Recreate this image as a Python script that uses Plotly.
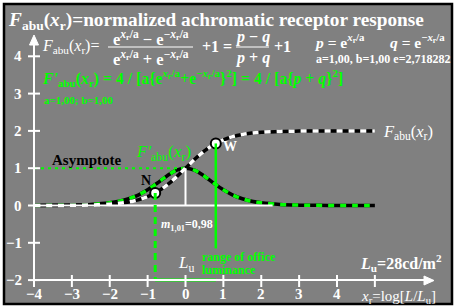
import plotly.graph_objects as go

# ---- data ----
x_vals = [-4.0, -3.5, -3.0, -2.5, -2.0, -1.75, -1.5, -1.25, -1.0, -0.75, -0.5, -0.25,
          0.0, 0.25, 0.5, 0.75, 1.0, 1.25, 1.5, 1.75, 2.0, 2.5, 3.0, 3.5, 4.0, 4.5, 5.0]
f_abu = [0.001, 0.002, 0.005, 0.013, 0.036, 0.059, 0.095, 0.152, 0.238, 0.365, 0.538, 0.755,
         1.0, 1.245, 1.462, 1.635, 1.762, 1.848, 1.905, 1.941, 1.964, 1.987, 1.995, 1.998, 1.999, 2.0, 2.0]
f_deriv = [0.001, 0.004, 0.010, 0.027, 0.071, 0.114, 0.181, 0.280, 0.420, 0.597, 0.786, 0.940,
           1.0, 0.940, 0.786, 0.597, 0.420, 0.280, 0.181, 0.114, 0.071, 0.027, 0.010, 0.004, 0.001, 0.0005, 0.0002]
points_x = [-0.8, 0.8]
points_y = [0.336, 1.664]
x_ticks = [-4, -3, -2, -1, 0, 1, 2, 3, 4, 5]
x_tick_labels = ["−4", "−3", "−2", "−1", "0", "1", "2", "3", "4", ""]
y_ticks = [-2, -1, 0, 1, 2, 3, 4]
y_tick_labels = ["−2", "−1", "0", "1", "2", "3", "4"]

# ---- pixel helpers (layout only) ----
X0PX, XS, Y0PX, YS = 185.5, 37.875, 205.5, 37.3
W, H = 457, 308
def px(xp):
    return (xp - X0PX) / XS
def py(yp):
    return (Y0PX - yp) / YS

GREY = "#808080"
GREEN = "#00ff00"
FONT = "Liberation Serif"

fig = go.Figure()

shapes = []
shapes.append(dict(type="rect", xref="x", yref="y", x0=px(4), x1=px(452), y0=py(4), y1=py(304),
                   fillcolor=GREY, line=dict(color="black", width=2.5), layer="below"))
shapes.append(dict(type="line", x0=-4, x1=2.3, y0=0, y1=0, line=dict(color="white", width=2)))
shapes.append(dict(type="line", x0=0, x1=0, y0=0, y1=1, line=dict(color="white", width=2)))
shapes.append(dict(type="line", x0=-4, x1=-0.1, y0=1, y1=1, line=dict(color=GREEN, width=2, dash="3px,4px")))
shapes.append(dict(type="line", x0=points_x[0], x1=points_x[0], y0=points_y[0], y1=-2,
                   line=dict(color=GREEN, width=3, dash="7px,5px")))
shapes.append(dict(type="line", x0=points_x[1], x1=points_x[1], y0=points_y[1], y1=-1.15,
                   line=dict(color=GREEN, width=2.5)))
shapes.append(dict(type="line", x0=points_x[0], x1=points_x[1], y0=-2, y1=-2,
                   line=dict(color=GREEN, width=3)))
shapes.append(dict(type="line", x0=-4, x1=-4, y0=-2, y1=py(42), line=dict(color="white", width=2)))
shapes.append(dict(type="line", x0=-4, x1=px(428), y0=-2, y1=-2, line=dict(color="white", width=2)))
shapes.append(dict(type="path", path="M %f %f L %f %f L %f %f Z" % (px(34), py(35), px(29.5), py(45), px(38.5), py(45)),
                   fillcolor="white", line=dict(color="white", width=1)))
shapes.append(dict(type="path", path="M %f %f L %f %f L %f %f Z" % (px(434), py(280.5), px(424), py(276), px(424), py(285)),
                   fillcolor="white", line=dict(color="white", width=1)))
for t in x_ticks:
    shapes.append(dict(type="line", x0=t, x1=t, y0=py(275), y1=py(287), line=dict(color="white", width=2)))
for t in y_ticks:
    shapes.append(dict(type="line", x0=px(28), x1=px(40), y0=t, y1=t, line=dict(color="white", width=2)))
shapes.append(dict(type="line", x0=px(108), x1=px(193), y0=py(47), y1=py(47), line=dict(color="white", width=1.2)))
shapes.append(dict(type="line", x0=px(236), x1=px(269), y0=py(47), y1=py(47), line=dict(color="white", width=1.2)))

fig.add_trace(go.Scatter(x=x_vals, y=f_deriv, mode="lines", line=dict(color="black", width=3.5, shape="spline"),
                         hoverinfo="skip", showlegend=False))
fig.add_trace(go.Scatter(x=x_vals, y=f_deriv, mode="lines", line=dict(color=GREEN, width=3.5, shape="spline", dash="6px,6px"),
                         hoverinfo="skip", showlegend=False))
fig.add_trace(go.Scatter(x=x_vals, y=f_abu, mode="lines", line=dict(color="black", width=3.5, shape="spline"),
                         hoverinfo="skip", showlegend=False))
fig.add_trace(go.Scatter(x=x_vals, y=f_abu, mode="lines", line=dict(color="white", width=3.5, shape="spline", dash="6px,6px"),
                         hoverinfo="skip", showlegend=False))
fig.add_trace(go.Scatter(x=points_x, y=points_y, mode="markers",
                         marker=dict(size=10, color="white", line=dict(color="black", width=2)),
                         hoverinfo="skip", showlegend=False))

ann = []
def text(xp, yp, s, size=14, color="white", anchor="left", bold=True):
    ann.append(dict(x=px(xp), y=py(yp), xref="x", yref="y", text=("<b>%s</b>" % s) if bold else s,
                    showarrow=False, xanchor=anchor, yanchor="middle",
                    font=dict(family=FONT, size=size, color=color)))

X = "<i>x</i><sub>r</sub>"
EP = "e<sup><i>x</i><sub>r</sub>/a</sup>"
EM = "e<sup>−<i>x</i><sub>r</sub>/a</sup>"
text(6, 21, "<i>F</i><sub>abu</sub>(" + X + ")=normalized achromatic receptor response", size=19.3)
text(40, 46, "<i>F</i><sub>abu</sub>(" + X + ")=", size=16, bold=False)
text(151, 38, EP + " − " + EM, size=16.5, anchor="center")
text(151, 58, EP + " + " + EM, size=16.5, anchor="center")
text(200, 46, "+1 =", size=16)
text(252, 37, "<i>p</i> − <i>q</i>", size=16, anchor="center")
text(252, 58, "<i>p</i> + <i>q</i>", size=16, anchor="center")
text(272, 46, "+1", size=16)
text(312, 41, "<i>p</i> = " + EP, size=15.5)
text(388, 41, "<i>q</i> = " + EM, size=15.5)
text(314, 59, "a=1,00, b=1,00 e=2,718282", size=12)
text(40, 78, "<i>F'</i><sub>abu</sub>(" + X + ") = 4 / [a{" + EP + "+" + EM + "}<sup>2</sup>] = 4 / [a{<i>p</i> + <i>q</i>}<sup>2</sup>]",
     size=15.8, color=GREEN)
text(42, 100, "a=1,00; b=1,00", size=11, color=GREEN)

for t, lbl in zip(y_ticks, y_tick_labels):
    ann.append(dict(x=px(24), y=t, xref="x", yref="y", text="<b>%s</b>" % lbl, showarrow=False,
                    xanchor="right", yanchor="middle", font=dict(family=FONT, size=15, color="white")))
for t, lbl in zip(x_ticks, x_tick_labels):
    if lbl:
        ann.append(dict(x=t, y=py(294), xref="x", yref="y", text="<b>%s</b>" % lbl, showarrow=False,
                        xanchor="center", yanchor="middle", font=dict(family=FONT, size=15, color="white")))

text(50, 160, "Asymptote", size=15, color="black")
text(134, 153, "<i>F'</i><sub>abu</sub>(" + X + ")", size=17, color=GREEN, bold=False)
ann.append(dict(x=points_x[0], y=points_y[0], xref="x", yref="y", text="<b>N</b>", showarrow=False,
                xshift=-9, yshift=12, font=dict(family=FONT, size=14, color="black")))
ann.append(dict(x=points_x[1], y=points_y[1], xref="x", yref="y", text="<b>W</b>", showarrow=False,
                xshift=14, yshift=-3, font=dict(family=FONT, size=14, color="white")))
text(381, 132, "<i>F</i><sub>abu</sub>(" + X + ")", size=16.5, bold=False)
text(159, 225, "<i>m</i><sub>1,01</sub>=0,98", size=12)
text(176, 264, "<i>L</i><sub>u</sub>", size=17, bold=False)
text(200, 257, "range of office", size=12, color=GREEN)
text(200, 270, "luminance", size=12, color=GREEN)
text(358, 263, "<i>L</i><sub>u</sub>=28cd/m<sup>2</sup>", size=16)
text(359, 297, X + "=log[<i>L</i>/<i>L</i><sub>u</sub>]", size=15, bold=False)

fig.update_layout(
    width=W, height=H, margin=dict(l=0, r=0, t=0, b=0),
    paper_bgcolor="white", plot_bgcolor="white",
    xaxis=dict(range=[px(0), px(W)], visible=False, fixedrange=True),
    yaxis=dict(range=[py(H), py(0)], visible=False, fixedrange=True),
    shapes=shapes, annotations=ann, showlegend=False,
)
fig.write_html("out.html", config={"displayModeBar": False, "staticPlot": True},
               post_script="document.body.style.margin='0';document.body.style.overflow='hidden';")
